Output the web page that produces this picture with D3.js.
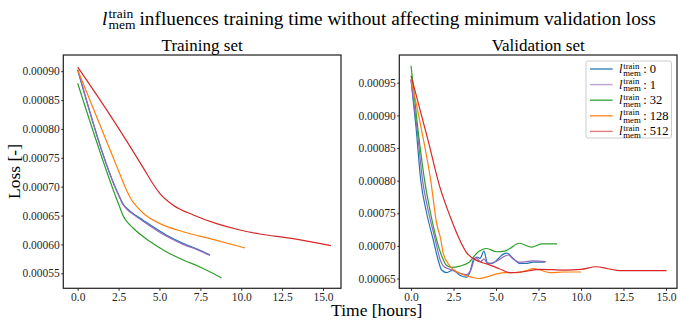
<!DOCTYPE html>
<html>
<head>
<meta charset="utf-8">
<script src="https://cdn.jsdelivr.net/npm/d3@7"></script>
<style>
  body { margin: 0; background: #fff; }
  svg text { font-family: "Liberation Serif", "DejaVu Serif", serif; }
</style>
</head>
<body>
<div id="chart"></div>
<script>
// memory sizes and their colours
const memSizes = [0, 1, 32, 128, 512];
const colors = ["#1f77b4", "#9467bd", "#2ca02c", "#ff7f0e", "#d62728"];

// training loss, one array per series (time in hours)
const trainTime = [
  [0, 2.55, 2.8, 3.1, 3.4, 4.0, 4.42, 5.44, 6.45, 7.3, 8.09],
  [0, 2.5, 2.75, 3.05, 3.4, 4.0, 4.42, 5.44, 6.45, 7.3, 8.09],
  [0, 2.55, 2.79, 3.0, 3.4, 4.42, 5.44, 6.45, 7.48, 8.8],
  [0, 2.48, 3.0, 3.3, 3.6, 4.01, 5.03, 6.45, 8.09, 10.23],
  [0, 2.0, 4.0, 4.6, 5.03, 5.84, 7.07, 8.5, 9.92, 11.14, 12.98, 15.48]
];
const trainLoss = [
  [0.000902, 0.000683, 0.000669, 0.00066, 0.000653, 0.000642, 0.000634, 0.000616, 0.000602, 0.000592, 0.000582],
  [0.000903, 0.000685, 0.00067, 0.00066, 0.000652, 0.00064, 0.000632, 0.000614, 0.0006, 0.000591, 0.000581],
  [0.000879, 0.000666, 0.000649, 0.00064, 0.000628, 0.000605, 0.000587, 0.000573, 0.000561, 0.000542],
  [0.000902, 0.000729, 0.000693, 0.000677, 0.000666, 0.000654, 0.000636, 0.000622, 0.00061, 0.000594],
  [0.000907, 0.000823, 0.000733, 0.000705, 0.000688, 0.000668, 0.000651, 0.000636, 0.000625, 0.000618, 0.000611, 0.000598]
];

// validation loss
const valTime = [
  [0, 0.3, 0.57, 0.92, 1.31, 1.6, 1.8, 2.1, 2.47, 2.88, 3.27, 3.47, 3.66, 3.88, 4.06, 4.29, 4.49, 4.76, 5.04, 5.4, 5.63, 6.0, 6.41, 6.76, 7.19, 7.88],
  [0, 0.35, 0.68, 1.05, 1.42, 1.7, 1.95, 2.3, 2.9, 3.27, 3.5, 3.8, 4.1, 4.3, 4.5, 5.0, 5.24, 5.72, 6.0, 6.41, 7.19, 7.94],
  [0, 0.4, 0.8, 1.15, 1.5, 1.8, 2.1, 2.39, 2.88, 3.37, 3.96, 4.45, 5.04, 5.5, 5.82, 6.37, 7.1, 7.69, 8.6],
  [0, 0.6, 1.16, 1.51, 1.75, 1.9, 2.29, 2.88, 3.57, 4.0, 4.25, 5.04, 5.5, 6.22, 6.8, 7.19, 7.6, 8.18, 9.0, 10.0],
  [0, 1.0, 1.7, 2.3, 2.8, 3.26, 4.0, 4.5, 5.2, 5.8, 6.5, 7.6, 9.0, 10.0, 10.9, 11.6, 12.3, 13.5, 15.04]
];
const valLoss = [
  [0.000955, 0.00088, 0.000801, 0.00075, 0.000709, 0.000678, 0.000663, 0.000659, 0.000663, 0.000655, 0.000652, 0.00066, 0.000678, 0.000683, 0.000681, 0.000692, 0.000674, 0.000673, 0.000678, 0.000687, 0.000689, 0.000681, 0.000673, 0.000673, 0.000675, 0.000675],
  [0.000954, 0.00088, 0.0008, 0.00075, 0.00071, 0.00068, 0.000668, 0.000664, 0.000658, 0.000656, 0.000662, 0.000682, 0.000676, 0.00068, 0.000673, 0.000676, 0.00068, 0.000686, 0.00068, 0.000675, 0.000677, 0.000676],
  [0.000976, 0.00088, 0.0008, 0.00075, 0.00071, 0.000685, 0.00067, 0.000667, 0.000669, 0.000674, 0.000691, 0.000696, 0.000691, 0.000692, 0.000696, 0.000704, 0.000698, 0.000703, 0.000703],
  [0.000955, 0.00088, 0.0008, 0.000734, 0.00071, 0.000688, 0.000669, 0.000658, 0.000652, 0.00065, 0.000651, 0.000657, 0.000659, 0.000659, 0.000662, 0.000665, 0.000663, 0.000659, 0.00066, 0.00066],
  [0.000961, 0.000862, 0.00079, 0.000745, 0.000713, 0.00069, 0.000676, 0.000672, 0.000665, 0.000659, 0.00066, 0.000664, 0.000663, 0.000664, 0.000668, 0.000665, 0.000662, 0.000662, 0.000662]
];

const xTicks = [0, 2.5, 5, 7.5, 10, 12.5, 15];
const yTicksTrain = [0.00055, 0.0006, 0.00065, 0.0007, 0.00075, 0.0008, 0.00085, 0.0009];
const yTicksVal = [0.00065, 0.0007, 0.00075, 0.0008, 0.00085, 0.0009, 0.00095];

const width = 678, height = 324;
const plotTop = 55, plotBottom = 288.3;
const ink = "#262626";
const serif = "Liberation Serif, DejaVu Serif, serif";

const svg = d3.select("#chart").append("svg")
    .attr("width", width)
    .attr("height", height);

// l^train_mem followed by some text, returns the width used
function memLabel(g, x, y, size, rest){
    const l = g.append("text").attr("x", x).attr("y", y)
        .attr("font-family", serif)
        .style("font-size", size + "px").style("font-style", "italic").text("l");
    const sx = x + l.node().getComputedTextLength() + size * 0.06;
    const small = size * 0.7;
    const sup = g.append("text").attr("x", sx).attr("y", y - size * 0.36)
        .attr("font-family", serif)
        .style("font-size", small + "px").text("train");
    const sub = g.append("text").attr("x", sx).attr("y", y + size * 0.22)
        .attr("font-family", serif)
        .style("font-size", small + "px").text("mem");
    const w = Math.max(sup.node().getComputedTextLength(), sub.node().getComputedTextLength());
    const r = g.append("text").attr("x", sx + w + size * 0.2).attr("y", y)
        .attr("font-family", serif)
        .style("font-size", size + "px").text(rest);
    return sx + w + size * 0.2 + r.node().getComputedTextLength() - x;
}

function panel(x0, x1, xDomain, yDomain, yTicks, times, losses, title){
    const x = d3.scaleLinear().domain(xDomain).range([x0, x1]);
    const y = d3.scaleLinear().domain(yDomain).range([plotBottom, plotTop]);
    const g = svg.append("g");

    const line = d3.line()
        .x(d => x(d[0]))
        .y(d => y(d[1]))
        .curve(d3.curveMonotoneX);

    times.forEach((ts, i) => {
        const pts = ts.map((t, k) => [t, losses[i][k]]);
        g.append("path")
            .attr("d", line(pts))
            .attr("fill", "none")
            .attr("stroke", colors[i])
            .attr("stroke-width", 1.2);
    });

    const ax = g.append("g")
        .attr("transform", `translate(0,${plotBottom})`)
        .call(d3.axisBottom(x).tickValues(xTicks).tickFormat(d3.format(".1f")).tickSize(2.5).tickPadding(2.5));
    const ay = g.append("g")
        .attr("transform", `translate(${x0},0)`)
        .call(d3.axisLeft(y).tickValues(yTicks).tickFormat(d3.format(".5f")).tickSize(2).tickPadding(1.5));
    [ax, ay].forEach(a => {
        a.select(".domain").remove();
        a.selectAll("line").attr("stroke", ink);
        a.selectAll("text").attr("fill", ink)
            .attr("font-family", serif)
            .style("font-size", "11.5px");
    });

    g.append("rect")
        .attr("x", x0).attr("y", plotTop)
        .attr("width", x1 - x0).attr("height", plotBottom - plotTop)
        .attr("fill", "none")
        .attr("stroke", ink)
        .attr("stroke-width", 1.25);

    g.append("text")
        .attr("x", (x0 + x1) / 2).attr("y", 51)
        .attr("text-anchor", "middle")
        .attr("font-family", serif)
        .style("font-size", "17px")
        .text(title);
}

panel(63.3, 341, [-0.88, 16.1], [0.000524, 0.000928], yTicksTrain, trainTime, trainLoss, "Training set");
panel(399.3, 677, [-0.69, 15.65], [0.000635, 0.0009925], yTicksVal, valTime, valLoss, "Validation set");

// legend
const leg = svg.append("g");
leg.append("rect")
    .attr("x", 586).attr("y", 61)
    .attr("width", 85.5).attr("height", 77)
    .attr("rx", 2)
    .attr("fill", "#fff").attr("fill-opacity", 0.8)
    .attr("stroke", "#cccccc").attr("stroke-width", 1);
memSizes.forEach((m, i) => {
    const ly = 69 + i * 15.6;
    leg.append("line")
        .attr("x1", 590).attr("x2", 612.7)
        .attr("y1", ly).attr("y2", ly)
        .attr("stroke", colors[i])
        .attr("stroke-width", 1.4)
        .attr("stroke-opacity", i == 1 || i == 4 ? 0.6 : 0.9);
    memLabel(leg, 619, ly + 4, 12.5, ": " + m);
});

// figure title
const tg = svg.append("g");
const tw = memLabel(tg, 0, 25, 19.3, "influences training time without affecting minimum validation loss");
tg.attr("transform", `translate(${379 - tw / 2},0)`);

svg.append("text")
    .attr("x", 376.7).attr("y", 316)
    .attr("text-anchor", "middle")
    .attr("font-family", serif)
    .style("font-size", "17.5px")
    .text("Time [hours]");

svg.append("text")
    .attr("transform", "translate(19.5,171.5) rotate(-90)")
    .attr("text-anchor", "middle")
    .attr("font-family", serif)
    .style("font-size", "17.5px")
    .text("Loss [-]");
</script>
</body>
</html>
